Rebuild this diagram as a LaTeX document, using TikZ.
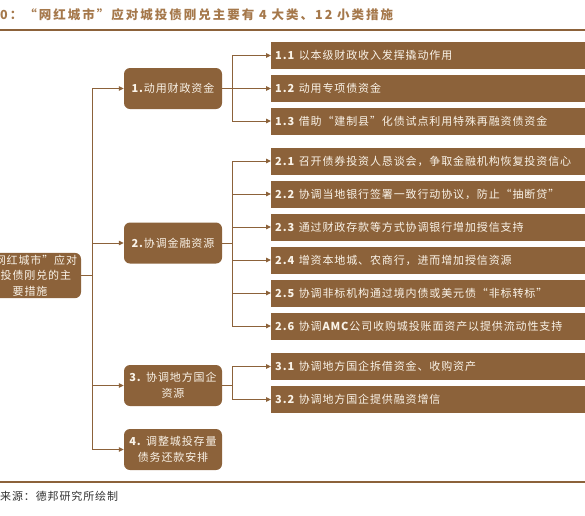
\documentclass[tikz,border=0pt]{standalone}
\usepackage{fontspec}
\setmainfont{Noto Sans CJK SC}
\newfontfamily\kuan[LetterSpace=8]{Noto Sans CJK SC}
\newfontfamily\biaotiziti[LetterSpace=16]{Noto Sans CJK SC}
\usetikzlibrary{arrows.meta}

\definecolor{zong}{RGB}{140,98,58}
\definecolor{biaoti}{RGB}{165,120,75}
\definecolor{ziti}{RGB}{250,243,232}

\begin{document}
\begin{tikzpicture}[x=1pt, y=-1pt,
  every node/.style={font=\kuan\fontsize{11}{15.5}\selectfont, align=center},
  root/.style={rectangle, rounded corners=6pt, fill=zong, text=ziti, minimum width=102pt, minimum height=41pt, inner sep=2pt},
  lei/.style={rectangle, rounded corners=6pt, fill=zong, text=ziti, minimum width=98pt, minimum height=41pt, inner sep=2pt},
  cuoshi/.style={rectangle, fill=zong, text=ziti, anchor=west, text width=322pt, align=left, inner xsep=4pt, minimum height=27pt},
  lian/.style={draw=zong, line width=1pt, -{Triangle[length=5pt, width=4.5pt]}},
  xian/.style={draw=zong, line width=1.5pt}
]
\clip (0,0) rectangle (585,515);

% 标题
\node[anchor=west, inner sep=0, text=biaoti, font=\biaotiziti\bfseries\fontsize{12.5}{14}\selectfont] (title) at (0,15) {0：“网红城市”应对城投债刚兑主要有 4 大类、12 小类措施};
\coordinate (t1) at (0,30);
\coordinate (t2) at (585,30);
\draw[xian] (t1) -- (t2);

% 总目标
\node[root] (root) at (30,275.5) {“网红城市”应对\\城投债刚兑的主\\要措施};

% 四大类
\node[lei] (b1) at (173,88.5) {\textbf{1.}动用财政资金};
\node[lei] (b2) at (173,243) {\textbf{2.}协调金融资源};
\node[lei] (b3) at (173,385.5) {\textbf{3.} 协调地方国企\\资源};
\node[lei] (b4) at (173,449.5) {\textbf{4.} 调整城投存量\\债务还款安排};

% 十二小类
\node[cuoshi] (c11) at (271,55.5) {\textbf{1.1} 以本级财政收入发挥撬动作用};
\node[cuoshi] (c12) at (271,88.5) {\textbf{1.2} 动用专项债资金};
\node[cuoshi] (c13) at (271,121) {\textbf{1.3} 借助“建制县”化债试点利用特殊再融资债资金};

\node[cuoshi] (c21) at (271,161) {\textbf{2.1} 召开债券投资人恳谈会，争取金融机构恢复投资信心};
\node[cuoshi] (c22) at (271,194) {\textbf{2.2} 协调当地银行签署一致行动协议，防止“抽断贷”};
\node[cuoshi] (c23) at (271,227) {\textbf{2.3} 通过财政存款等方式协调银行增加授信支持};
\node[cuoshi] (c24) at (271,260) {\textbf{2.4} 增资本地城、农商行，进而增加授信资源};
\node[cuoshi] (c25) at (271,293) {\textbf{2.5} 协调非标机构通过境内债或美元债“非标转标”};
\node[cuoshi] (c26) at (271,326) {\textbf{2.6} 协调\textbf{AMC}公司收购城投账面资产以提供流动性支持};

\node[cuoshi] (c31) at (271,366.5) {\textbf{3.1} 协调地方国企拆借资金、收购资产};
\node[cuoshi] (c32) at (271,399.5) {\textbf{3.2} 协调地方国企提供融资增信};

% 连线
\foreach \n in {1,2,3,4} {
  \draw[lian] (root.east) -- ++(11,0) |- (b\n.west);
}
\foreach \n in {1,2,3} {
  \draw[lian] (b1.east) -- ++(10,0) |- (c1\n.west);
}
\foreach \n in {1,...,6} {
  \draw[lian] (b2.east) -- ++(10,0) |- (c2\n.west);
}
\foreach \n in {1,2} {
  \draw[lian] (b3.east) -- ++(10,0) |- (c3\n.west);
}

% 来源
\coordinate (d1) at (0,482);
\coordinate (d2) at (585,482);
\draw[xian] (d1) -- (d2);
\node[anchor=west, inner sep=0, text=black!80] (laiyuan) at (0,496) {来源：德邦研究所绘制};
\end{tikzpicture}
\end{document}
